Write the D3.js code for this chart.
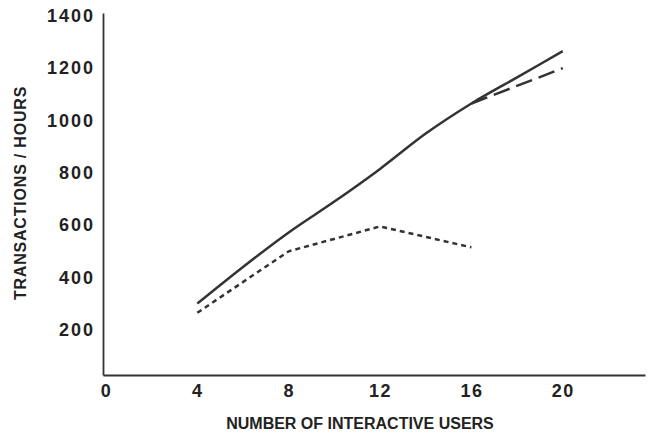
<!DOCTYPE html>
<html>
<head>
<meta charset="utf-8">
<script src="https://cdn.jsdelivr.net/npm/d3@7"></script>
<style>
  body { margin: 0; background: #fff; }
  text { font-family: "Liberation Sans", Arial, sans-serif; fill: #222; }
</style>
</head>
<body>
<script>
// values
var users = [4, 6, 8, 10, 12, 14, 16, 18, 20];
var measured = [300, 440, 572, 690, 815, 950, 1065, 1165, 1265];
var projectedUsers = [16, 20];
var projected = [1065, 1200];
var lowUsers = [4, 8, 12, 16];
var lowValues = [265, 500, 595, 515];
var xTicks = [0, 4, 8, 12, 16, 20];
var yTicks = [200, 400, 600, 800, 1000, 1200, 1400];

var width = 653, height = 438;

var svg = d3.select("body").append("svg")
    .attr("width", width)
    .attr("height", height);

var x = d3.scaleLinear().domain([-0.13, 23.6]).range([103, 645]);
var y = d3.scaleLinear().domain([27, 1411]).range([375, 13]);

// axes, no tick marks, just labels
var xAxis = svg.append("g")
    .attr("transform", "translate(0," + y(27) + ")")
    .call(d3.axisBottom(x).tickValues(xTicks).tickSize(0).tickPadding(9).tickSizeOuter(0));
xAxis.select(".domain").attr("stroke", "#333").attr("stroke-width", 1.8);
xAxis.selectAll("text")
    .style("font-size", "18px")
    .style("font-weight", "bold")
    .style("letter-spacing", "1.5px");

var yAxis = svg.append("g")
    .attr("transform", "translate(" + x(-0.13) + ",0)")
    .call(d3.axisLeft(y).tickValues(yTicks).tickFormat(d3.format("d")).tickSize(0).tickPadding(8).tickSizeOuter(0));
yAxis.select(".domain").attr("stroke", "#333").attr("stroke-width", 1.8);
yAxis.selectAll("text")
    .style("font-size", "18px")
    .style("font-weight", "bold")
    .style("letter-spacing", "2px");

// axis titles
svg.append("text")
    .attr("x", 360)
    .attr("y", 429)
    .attr("text-anchor", "middle")
    .style("font-size", "16px")
    .style("font-weight", "bold")
    .text("NUMBER OF INTERACTIVE USERS");

svg.append("text")
    .attr("transform", "translate(26,193) rotate(-90)")
    .attr("text-anchor", "middle")
    .style("font-size", "16px")
    .style("font-weight", "bold")
    .style("letter-spacing", "0.8px")
    .text("TRANSACTIONS / HOURS");

// lines
var line = d3.line()
    .x(d => x(d[0]))
    .y(d => y(d[1]))
    .curve(d3.curveMonotoneX);

svg.append("path")
    .datum(d3.zip(users, measured))
    .attr("d", line)
    .attr("fill", "none")
    .attr("stroke", "#333")
    .attr("stroke-width", 2.5);

svg.append("path")
    .datum(d3.zip(projectedUsers, projected))
    .attr("d", line)
    .attr("fill", "none")
    .attr("stroke", "#333")
    .attr("stroke-width", 2.5)
    .attr("stroke-dasharray", "17,7");

svg.append("path")
    .datum(d3.zip(lowUsers, lowValues))
    .attr("d", d3.line().x(d => x(d[0])).y(d => y(d[1])))
    .attr("fill", "none")
    .attr("stroke", "#333")
    .attr("stroke-width", 2.5)
    .attr("stroke-dasharray", "5,4");
</script>
</body>
</html>
